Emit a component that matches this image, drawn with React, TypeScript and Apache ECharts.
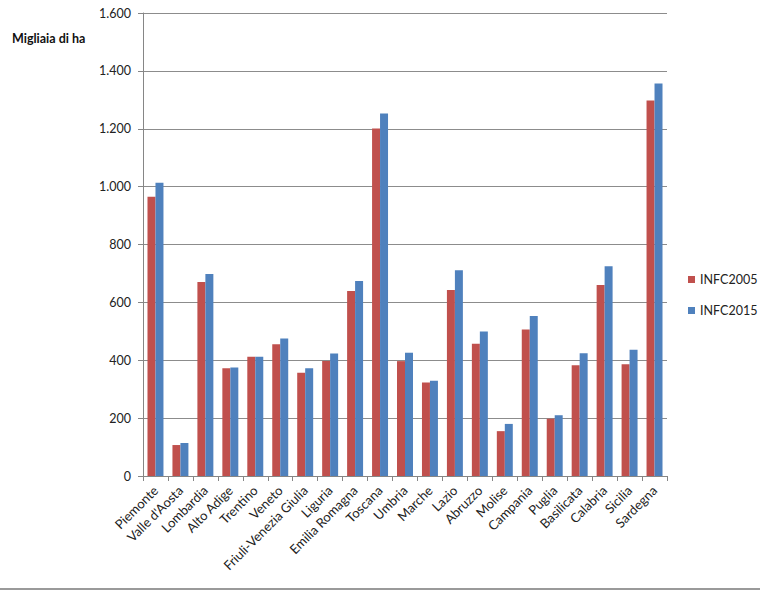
import React, { useEffect, useRef } from "react";
import * as echarts from "echarts";

const regions = [
  "Piemonte", "Valle d'Aosta", "Lombardia", "Alto Adige", "Trentino", "Veneto",
  "Friuli-Venezia Giulia", "Liguria", "Emilia Romagna", "Toscana", "Umbria", "Marche",
  "Lazio", "Abruzzo", "Molise", "Campania", "Puglia", "Basilicata", "Calabria",
  "Sicilia", "Sardegna",
];
const infc2005 = [965, 107, 670, 372, 412, 455, 357, 397, 639, 1201, 397, 323, 643, 457, 155, 506, 198, 383, 660, 386, 1298];
const infc2015 = [1013, 114, 698, 375, 412, 475, 372, 423, 674, 1253, 426, 329, 711, 499, 180, 553, 210, 424, 725, 436, 1356];
const seriesNames = ["INFC2005", "INFC2015"];
const yTicks = [0, 200, 400, 600, 800, 1000, 1200, 1400, 1600];

const FONT = "Lato, 'Open Sans', sans-serif";

export default function App() {
  const ref = useRef<HTMLDivElement>(null);
  useEffect(() => {
    document.body.style.margin = "0";
    const chart = echarts.init(ref.current!, undefined, { renderer: "svg" });
    chart.setOption({
      animation: false,
      backgroundColor: "#ffffff",
      textStyle: { fontFamily: FONT },
      grid: { left: 143, right: 93, top: 13, bottom: 116, containLabel: false },
      legend: {
        orient: "vertical",
        left: 683,
        top: 268,
        itemWidth: 7,
        itemHeight: 7,
        itemGap: 18,
        icon: "rect",
        data: seriesNames,
        textStyle: { fontFamily: FONT, fontSize: 12.5, color: "#222" },
      },
      xAxis: {
        type: "category",
        data: regions,
        axisLine: { lineStyle: { color: "#868686", width: 1 } },
        axisTick: { show: true, length: 5, alignWithLabel: false, lineStyle: { color: "#868686" } },
        axisLabel: {
          interval: 0,
          rotate: 45,
          margin: 12,
          fontFamily: FONT,
          fontSize: 13,
          color: "#222",
        },
      },
      yAxis: {
        type: "value",
        min: yTicks[0],
        max: yTicks[yTicks.length - 1],
        interval: 200,
        axisLine: { show: true, lineStyle: { color: "#868686", width: 1 } },
        axisTick: { show: true, length: 5, inside: false, lineStyle: { color: "#868686" } },
        splitLine: { show: true, lineStyle: { color: "#8c8c8c", width: 1 } },
        axisLabel: {
          margin: 12,
          fontFamily: FONT,
          fontSize: 12.5,
          color: "#222",
          formatter: (v: number) => v.toString().replace(/\B(?=(\d{3})+(?!\d))/g, "."),
        },
      },
      series: [
        {
          name: seriesNames[0],
          type: "bar",
          data: infc2005,
          barGap: "0%",
          barCategoryGap: "36%",
          itemStyle: { color: "#C0504D" },
        },
        {
          name: seriesNames[1],
          type: "bar",
          data: infc2015,
          barGap: "0%",
          barCategoryGap: "36%",
          itemStyle: { color: "#4F81BD" },
        },
      ],
      graphic: [
        {
          type: "text",
          left: 12,
          top: 32,
          style: {
            text: "Migliaia di ha",
            fontFamily: FONT,
            fontSize: 12.5,
            fontWeight: "bold",
            fill: "#111",
          },
        },
        {
          type: "line",
          shape: { x1: 0, y1: 589, x2: 760, y2: 589 },
          style: { stroke: "#9a9a9a", lineWidth: 2 },
        },
      ],
    });
    return () => chart.dispose();
  }, []);
  return <div ref={ref} style={{ width: 760, height: 592 }} />;
}
